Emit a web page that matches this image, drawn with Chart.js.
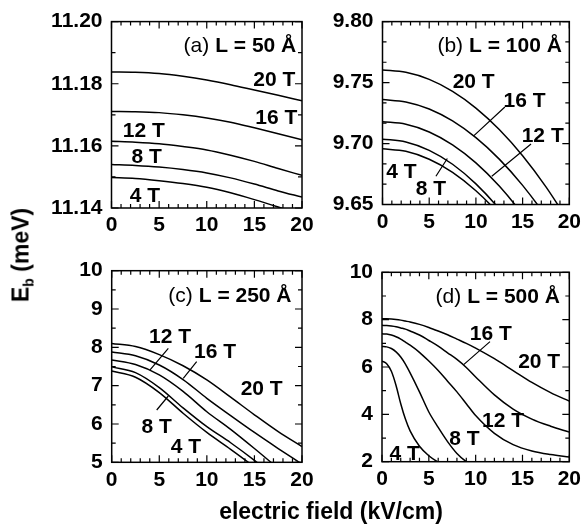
<!DOCTYPE html>
<html>
<head>
<meta charset="utf-8">
<script src="https://cdn.jsdelivr.net/npm/chart.js@4.4.0/dist/chart.umd.min.js"></script>
<style>
body{margin:0;background:#fff;width:586px;height:526px;position:relative;overflow:hidden;font-family:"Liberation Sans",Arial,sans-serif}
canvas{position:absolute}
#xt{position:absolute;left:131px;width:400px;top:500px;text-align:center;font-weight:bold;font-size:23px;line-height:23px}
#yt{position:absolute;left:25px;top:255px;transform:translate(-50%,-50%) rotate(-90deg);white-space:nowrap;font-weight:bold;font-size:23px;line-height:23px}
#yt sub{font-size:14px;vertical-align:-5px}
</style>
</head>
<body>
<canvas id="ca" width="320" height="240" style="left:0;top:0"></canvas>
<canvas id="cb" width="266" height="240" style="left:320px;top:0"></canvas>
<canvas id="cc" width="320" height="260" style="left:0;top:240px"></canvas>
<canvas id="cd" width="266" height="260" style="left:320px;top:240px"></canvas>
<div id="yt">E<sub>b</sub> (meV)</div>
<div id="xt">electric field (kV/cm)</div>
<script>
/* DATA */
const xsABC=[0,2.5,5,7.5,10,12.5,15,17.5,20];

const a20=[11.1838,11.1837,11.1833,11.1824,11.1812,11.1797,11.1780,11.1763,11.1745];
const a16=[11.1711,11.1710,11.1707,11.1700,11.1690,11.1676,11.1658,11.1639,11.1620];
const a12=[11.1615,11.1612,11.1607,11.1598,11.1587,11.1570,11.1550,11.1527,11.1505];
const a8 =[11.1540,11.1537,11.1532,11.1524,11.1513,11.1497,11.1477,11.1455,11.1435];
const a4 =[11.1498,11.1495,11.1488,11.1479,11.1467,11.1449,11.1427,11.1403,11.1378];

const b20=[9.7604,9.7584,9.7526,9.7428,9.7291,9.7115,9.6900,9.6645,9.6352];
const b16=[9.7361,9.7341,9.7283,9.7185,9.7048,9.6872,9.6657,9.6402,9.6109];
const b12=[9.7179,9.7158,9.7095,9.6989,9.6841,9.6651,9.6418,9.6144,9.5827];
const b8 =[9.7036,9.7013,9.6944,9.6830,9.6669,9.6463,9.6210,9.5912,9.5568];
const b4 =[9.6957,9.6936,9.6871,9.6764,9.6613,9.6420,9.6183,9.5904,9.5581];

const c20=[8.10,8.02,7.81,7.52,7.15,6.70,6.24,5.80,5.41];
const c16=[7.88,7.78,7.54,7.16,6.67,6.22,5.78,5.36,4.95];
const c12=[7.67,7.55,7.28,6.85,6.32,5.86,5.36,4.84,4.32];
const c8 =[7.49,7.34,6.95,6.42,5.93,5.51,5.05,4.55,4.05];
const c4 =[7.38,7.22,6.82,6.28,5.78,5.34,4.88,4.38,3.88];

const xsD=[0,0.5,1,1.5,2,2.5,3,4,5,6,7,8,9,10,12,14,16,18,20];
const d20=[8.04,8.04,8.03,8.01,7.98,7.94,7.90,7.80,7.67,7.52,7.36,7.18,7.00,6.80,6.35,5.85,5.35,4.92,4.56];
const d16=[7.76,7.75,7.73,7.70,7.65,7.60,7.52,7.35,7.12,6.88,6.60,6.32,5.98,5.58,4.82,4.22,3.80,3.50,3.25];
const d12=[7.40,7.39,7.35,7.28,7.18,7.05,6.92,6.62,6.25,5.85,5.40,4.95,4.45,3.95,3.20,2.72,2.45,2.30,2.20];
const d8 =[6.87,6.85,6.78,6.64,6.42,6.12,5.75,4.95,4.10,3.45,2.85,2.35,2.00,1.75,null,null,null,null,null];
const d4 =[6.25,6.14,5.82,5.22,4.45,3.80,3.30,2.65,2.25,1.98,1.80,null,null,null,null,null,null,null,null];

/* LABELS (data coords) */
const labelsA=[["20 T",17.1,11.1794],["16 T",17.3,11.1669],["12 T",3.4,11.1628],["8 T",3.7,11.1545],["4 T",3.5,11.142]];
const labelsB=[["20 T",9.76,9.7459],["16 T",15.2,9.73],["12 T",17.15,9.701],["4 T",2.03,9.6719],["8 T",5.19,9.6574]];
const labelsC=[["12 T",6.13,8.105],["16 T",10.86,7.714],["20 T",15.76,6.756],["8 T",4.73,5.757],["4 T",7.79,5.235]];
const labelsD=[["16 T",11.61,7.14],["20 T",16.78,5.94],["12 T",12.93,3.48],["8 T",8.81,2.705],["4 T",2.42,2.07]];

const leadersB=[[13.1,9.73,9.76,9.7063],[15.9,9.6996,11.7,9.6732],[5.72,9.6732,6.94,9.6877]];
const leadersC=[[5.95,7.975,4.03,7.41],[8.93,7.625,7.52,7.19],[4.73,6.365,5.95,6.73]];
const leadersD=[[11.53,7.07,8.72,6.1]];

const FONT='"Liberation Sans", Arial, sans-serif';
Chart.defaults.font.family=FONT;
Chart.defaults.color="#000";

function pts(xs,ys){
return xs.map((x,i)=>({x:x,y:ys[i]}));
}

/* FRAME, INWARD TICKS, ANNOTATIONS */
const framePlugin={
id:"frame",
afterDatasetsDraw(chart,args,o){
const ctx=chart.ctx, a=chart.chartArea, sx=chart.scales.x, sy=chart.scales.y;
ctx.save();
ctx.strokeStyle="#000";
ctx.lineWidth=1.5;
ctx.strokeRect(a.left,a.top,a.right-a.left,a.bottom-a.top);

ctx.lineWidth=1.2;
ctx.beginPath();
for(let i=0;i<=20;i++){
let px=sx.getPixelForValue(i), len=i%5===0?7:4;
ctx.moveTo(px,a.bottom);ctx.lineTo(px,a.bottom-len);
ctx.moveTo(px,a.top);ctx.lineTo(px,a.top+len);
}
let n=Math.round((o.yMax-o.yMin)/o.yMinor), per=Math.round(o.yMajor/o.yMinor);
for(let i=0;i<=n;i++){
let py=sy.getPixelForValue(o.yMin+i*o.yMinor), len=i%per===0?7:4;
ctx.moveTo(a.left,py);ctx.lineTo(a.left+len,py);
ctx.moveTo(a.right,py);ctx.lineTo(a.right-len,py);
}
(o.leaders||[]).forEach(l=>{
ctx.moveTo(sx.getPixelForValue(l[0]),sy.getPixelForValue(l[1]));
ctx.lineTo(sx.getPixelForValue(l[2]),sy.getPixelForValue(l[3]));
});
ctx.stroke();

ctx.fillStyle="#000";
ctx.textBaseline="alphabetic";
ctx.textAlign="center";
ctx.font="bold 21px "+FONT;
o.labels.forEach(l=>ctx.fillText(l[0],sx.getPixelForValue(l[1]),sy.getPixelForValue(l[2])));

/* panel title: "(a)" regular + "L = .. Å" bold, right aligned */
let t=o.title, rx=sx.getPixelForValue(t[2]), by=sy.getPixelForValue(t[3]);
ctx.textAlign="right";
ctx.font="bold 21px "+FONT;
ctx.fillText(t[1],rx,by);
let w=ctx.measureText(t[1]).width;
ctx.font="21px "+FONT;
ctx.fillText(t[0],rx-w-6,by);
ctx.restore();
}
};

function makeChart(id,xs,series,o,box){
new Chart(document.getElementById(id),{
type:"line",
data:{datasets:series.map(s=>({
data:pts(xs,s),borderColor:"#000",borderWidth:1.5,pointRadius:0,fill:false,
cubicInterpolationMode:"monotone",spanGaps:false
}))},
options:{
responsive:false,animation:false,devicePixelRatio:1,
layout:{padding:{top:box.top,right:box.right,left:0,bottom:0}},
plugins:{legend:{display:false},tooltip:{enabled:false},frame:o},
scales:{
x:{type:"linear",min:0,max:20,
grid:{display:false,drawTicks:false},border:{display:false},
ticks:{stepSize:5,padding:5,maxRotation:0,font:{size:21,weight:"bold"}},
afterFit(s){s.height=box.xh;}},
y:{type:"linear",min:o.yMin,max:o.yMax,
grid:{display:false,drawTicks:false},border:{display:false},
ticks:{stepSize:o.yMajor,padding:9,font:{size:21,weight:"bold"},callback:v=>v.toFixed(o.digits)},
afterFit(s){s.width=box.yw;}}
}
},
plugins:[framePlugin]
});
}

/* INIT */
makeChart("ca",xsABC,[a20,a16,a12,a8,a4],
{yMin:11.14,yMax:11.20,yMajor:0.02,yMinor:0.01,digits:2,labels:labelsA,title:["(a)","L = 50 Å",19.4,11.1903]},
{top:16,right:18,yw:111.5,xh:32});
makeChart("cb",xsABC,[b20,b16,b12,b8,b4],
{yMin:9.65,yMax:9.80,yMajor:0.05,yMinor:0.05/3,digits:2,labels:labelsB,leaders:leadersB,title:["(b)","L = 100 Å",19.2,9.7749]},
{top:15,right:14,yw:62.5,xh:35.5});
makeChart("cc",xsABC,[c20,c16,c12,c8,c4],
{yMin:5,yMax:10,yMajor:1,yMinor:0.5,digits:0,labels:labelsC,leaders:leadersC,title:["(c)","L = 250 Å",18.9,9.19]},
{top:30.7,right:18,yw:111.7,xh:37.7});
makeChart("cd",xsD,[d20,d16,d12,d8,d4],
{yMin:2,yMax:10,yMajor:2,yMinor:1,digits:0,labels:labelsD,leaders:leadersD,title:["(d)","L = 500 Å",19.0,8.69]},
{top:32.3,right:13.7,yw:62,xh:38.3});
</script>
</body>
</html>
